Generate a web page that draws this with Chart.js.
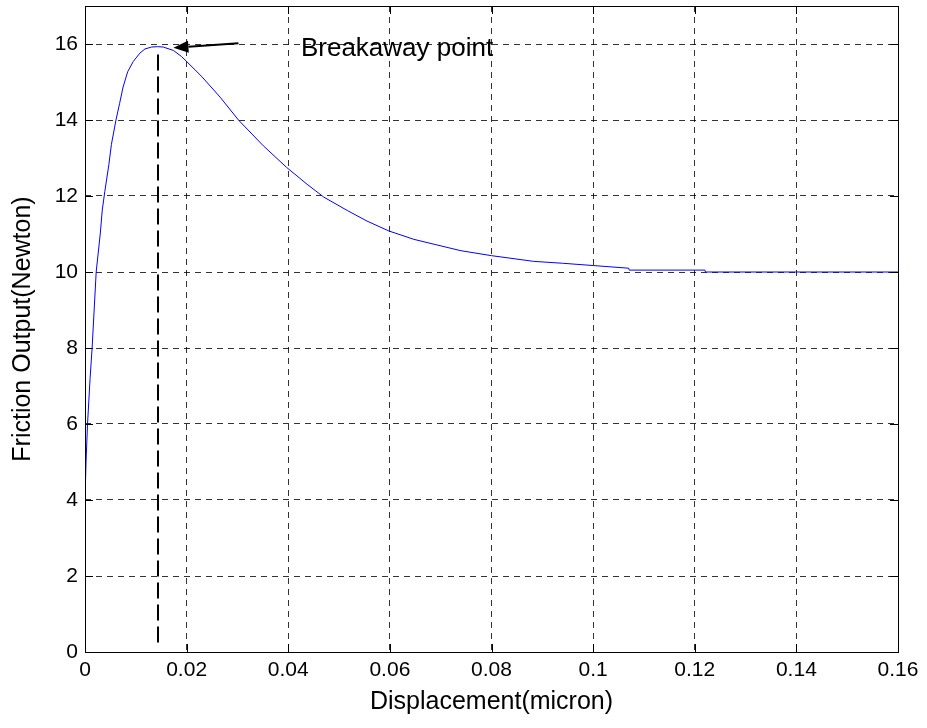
<!DOCTYPE html>
<html>
<head>
<meta charset="utf-8">
<script src="https://cdn.jsdelivr.net/npm/chart.js@4/dist/chart.umd.min.js"></script>
<style>
  html, body { margin: 0; padding: 0; background: #fff; }
  #wrap { width: 927px; height: 728px; position: relative; }
</style>
</head>
<body>
<div id="wrap"><canvas id="c" width="927" height="728"></canvas></div>
<script>
// ---- data ----
const displacement = [0, 0, 0.0002, 0.0005, 0.001, 0.0014, 0.0018, 0.0022, 0.003, 0.0034, 0.0039, 0.0047, 0.0052, 0.0061, 0.0068, 0.0075, 0.0084, 0.0095, 0.0108, 0.0118, 0.0131, 0.0143, 0.0154, 0.0174, 0.019, 0.02, 0.023, 0.0266, 0.0302, 0.0351, 0.0397, 0.0437, 0.047, 0.0516, 0.0555, 0.0598, 0.0647, 0.0687, 0.074, 0.08, 0.0883, 0.094, 0.1, 0.107, 0.1071, 0.122, 0.1221, 0.16];
const friction =     [0, 4, 5.0, 6.0, 7.2, 8.0, 9.0, 10.0, 11.0, 11.63, 12.12, 12.83, 13.36, 14.0, 14.43, 14.87, 15.27, 15.54, 15.76, 15.87, 15.92, 15.93, 15.92, 15.83, 15.67, 15.54, 15.14, 14.6, 14.0, 13.32, 12.75, 12.31, 11.97, 11.62, 11.34, 11.08, 10.86, 10.73, 10.56, 10.43, 10.28, 10.23, 10.17, 10.1, 10.05, 10.05, 10.0, 10.0];
const xTickValues = [0, 0.02, 0.04, 0.06, 0.08, 0.1, 0.12, 0.14, 0.16];
const xTickLabels = ["0", "0.02", "0.04", "0.06", "0.08", "0.1", "0.12", "0.14", "0.16"];
const yTickValues = [0, 2, 4, 6, 8, 10, 12, 14, 16];
const yTickLabels = ["0", "2", "4", "6", "8", "10", "12", "14", "16"];
const breakaway = { x: 0.0143, yLow: 0.25, yHigh: 15.75 };
const arrowFrom = { x: 0.0302, y: 16.02 };
const arrowTo = { x: 0.0174, y: 15.9 };
const annotationText = "Breakaway point";
const annotationPos = { x: 0.0425, y: 15.86 };
const xTitle = "Displacement(micron)";
const yTitle = "Friction Output(Newton)";

const FONT = 'Arial, "Liberation Sans", sans-serif';
const points = displacement.map((x, i) => ({ x: x, y: friction[i] }));

const boxPlugin = {
  id: 'box',
  afterDraw(chart) {
    const ctx = chart.ctx, a = chart.chartArea;
    const xs = chart.scales.x, ys = chart.scales.y;
    ctx.save();
    ctx.strokeStyle = '#000'; ctx.lineWidth = 1; ctx.setLineDash([]);
    ctx.strokeRect(Math.round(a.left) + 0.5, Math.round(a.top) + 0.5,
                   Math.round(a.right - a.left), Math.round(a.bottom - a.top));
    const tl = 8;
    ctx.beginPath();
    xTickValues.forEach(v => {
      const p = Math.round(xs.getPixelForValue(v)) + 0.5;
      ctx.moveTo(p, a.bottom); ctx.lineTo(p, a.bottom - tl);
      ctx.moveTo(p, a.top); ctx.lineTo(p, a.top + tl);
    });
    yTickValues.forEach(v => {
      const p = Math.round(ys.getPixelForValue(v)) + 0.5;
      ctx.moveTo(a.left, p); ctx.lineTo(a.left + tl, p);
      ctx.moveTo(a.right, p); ctx.lineTo(a.right - tl, p);
    });
    ctx.stroke();
    // breakaway vertical dashed line
    ctx.beginPath();
    ctx.lineWidth = 2; ctx.setLineDash([16, 6]);
    const bx = Math.round(xs.getPixelForValue(breakaway.x));
    ctx.moveTo(bx, ys.getPixelForValue(breakaway.yLow));
    ctx.lineTo(bx, ys.getPixelForValue(breakaway.yHigh));
    ctx.stroke();
    // arrow
    ctx.setLineDash([]);
    const x1 = xs.getPixelForValue(arrowFrom.x), y1 = ys.getPixelForValue(arrowFrom.y);
    const x2 = xs.getPixelForValue(arrowTo.x), y2 = ys.getPixelForValue(arrowTo.y);
    const ang = Math.atan2(y2 - y1, x2 - x1);
    const hl = 15, hw = 6;
    const bxh = x2 - hl * Math.cos(ang), byh = y2 - hl * Math.sin(ang);
    ctx.beginPath();
    ctx.lineWidth = 2;
    ctx.moveTo(x1, y1); ctx.lineTo(bxh, byh);
    ctx.stroke();
    ctx.beginPath();
    ctx.fillStyle = '#000';
    ctx.moveTo(x2, y2);
    ctx.lineTo(bxh + hw * Math.sin(ang), byh - hw * Math.cos(ang));
    ctx.lineTo(bxh - hw * Math.sin(ang), byh + hw * Math.cos(ang));
    ctx.closePath(); ctx.fill();
    ctx.font = '26px ' + FONT;
    ctx.textAlign = 'left'; ctx.textBaseline = 'middle';
    ctx.fillText(annotationText, xs.getPixelForValue(annotationPos.x), ys.getPixelForValue(annotationPos.y));
    ctx.restore();
  }
};

new Chart(document.getElementById('c'), {
  type: 'line',
  data: {
    datasets: [{
      data: points,
      borderColor: '#0000ff',
      borderWidth: 1,
      pointRadius: 0,
      tension: 0,
      fill: false
    }]
  },
  options: {
    responsive: false,
    animation: false,
    events: [],
    layout: { padding: { top: 6, right: 29, left: 0, bottom: 0 } },
    plugins: { legend: { display: false }, tooltip: { enabled: false } },
    scales: {
      x: {
        type: 'linear', min: 0, max: 0.16,
        afterBuildTicks: s => { s.ticks = xTickValues.map(v => ({ value: v })); },
        afterFit: s => { s.height = 76; s.paddingLeft = 0; s.paddingRight = 0; },
        ticks: {
          callback: (v) => { const i = xTickValues.findIndex(t => Math.abs(t - v) < 1e-9); return i >= 0 ? xTickLabels[i] : ''; },
          color: '#000', font: { family: FONT, size: 21 }, padding: 6, maxRotation: 0, autoSkip: false
        },
        grid: { color: 'rgba(0,0,0,0.8)', drawTicks: false, tickLength: 0 },
        border: { display: false, dash: [6, 5] },
        title: { display: true, text: xTitle, color: '#000', font: { family: FONT, size: 25 }, padding: { top: 0, bottom: 11 } }
      },
      y: {
        type: 'linear', min: 0, max: 17,
        afterBuildTicks: s => { s.ticks = yTickValues.map(v => ({ value: v })); },
        afterFit: s => { s.width = 85; s.paddingTop = 0; s.paddingBottom = 0; },
        ticks: {
          callback: (v) => { const i = yTickValues.findIndex(t => Math.abs(t - v) < 1e-9); return i >= 0 ? yTickLabels[i] : ''; },
          color: '#000', font: { family: FONT, size: 21 }, padding: 7, autoSkip: false
        },
        grid: { color: 'rgba(0,0,0,0.8)', drawTicks: false, tickLength: 0 },
        border: { display: false, dash: [6, 5] },
        title: { display: true, text: yTitle, color: '#000', font: { family: FONT, size: 25 }, padding: { top: 8, bottom: 0 } }
      }
    }
  },
  plugins: [boxPlugin]
});
</script>
</body>
</html>
